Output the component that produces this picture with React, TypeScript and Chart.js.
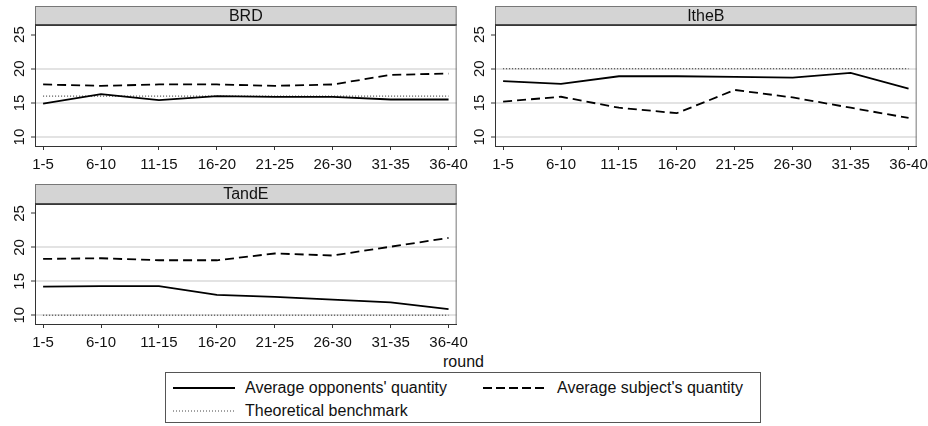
import React, { useEffect, useRef } from "react";
import { Chart, registerables } from "chart.js";

Chart.register(...registerables);

const rounds = ["1-5", "6-10", "11-15", "16-20", "21-25", "26-30", "31-35", "36-40"];

const brdOpponents = [14.9, 16.3, 15.4, 16.0, 15.9, 15.9, 15.5, 15.5];
const brdSubject = [17.7, 17.5, 17.7, 17.7, 17.5, 17.7, 19.1, 19.3];
const brdBenchmark = [16, 16, 16, 16, 16, 16, 16, 16];

const ithebOpponents = [18.2, 17.8, 18.9, 18.9, 18.8, 18.7, 19.4, 17.1];
const ithebSubject = [15.2, 15.9, 14.3, 13.5, 16.9, 15.8, 14.3, 12.8];
const ithebBenchmark = [20, 20, 20, 20, 20, 20, 20, 20];

const tandeOpponents = [14.2, 14.3, 14.3, 13.0, 12.7, 12.3, 11.9, 10.9];
const tandeSubject = [18.3, 18.4, 18.1, 18.1, 19.1, 18.8, 20.1, 21.4];
const tandeBenchmark = [10, 10, 10, 10, 10, 10, 10, 10];

const seriesNames = ["Average opponents' quantity", "Average subject's quantity", "Theoretical benchmark"];
const yMin = 8.7;
const yMax = 26.4;
const yStep = 5;

const FONT = "'Liberation Sans', Arial, Helvetica, sans-serif";
const TEXT = "#111";

const panelPlugin = {
  id: "panelDeco",
  afterDraw(chart: any, _args: any, opts: any) {
    const { ctx, chartArea: ca, scales } = chart;
    ctx.save();
    // header strip
    const top = opts.headerTop;
    ctx.fillStyle = "#d4d4d4";
    ctx.fillRect(ca.left, top, ca.right - ca.left, ca.top - top);
    ctx.strokeStyle = "#777";
    ctx.lineWidth = 1;
    ctx.strokeRect(ca.left + 0.5, top + 0.5, ca.right - ca.left - 1, ca.top - top);
    ctx.strokeStyle = "#222";
    ctx.lineWidth = 1.5;
    ctx.beginPath();
    ctx.moveTo(ca.left, ca.top);
    ctx.lineTo(ca.right, ca.top);
    ctx.stroke();
    ctx.fillStyle = TEXT;
    ctx.font = `16px ${FONT}`;
    ctx.textAlign = "center";
    ctx.textBaseline = "middle";
    ctx.fillText(opts.title, (ca.left + ca.right) / 2, (top + ca.top) / 2 + 1);
    // right border of plot region
    ctx.strokeStyle = "#777";
    ctx.lineWidth = 1;
    ctx.beginPath();
    ctx.moveTo(ca.right - 0.5, ca.top);
    ctx.lineTo(ca.right - 0.5, ca.bottom);
    ctx.stroke();
    // rotated y tick labels
    const ys = scales.y;
    ctx.fillStyle = TEXT;
    ctx.font = `15px ${FONT}`;
    ctx.textAlign = "center";
    ctx.textBaseline = "middle";
    ys.ticks.forEach((t: any) => {
      const py = ys.getPixelForValue(t.value);
      ctx.save();
      ctx.translate(ca.left - 15, py);
      ctx.rotate(-Math.PI / 2);
      ctx.fillText(String(t.value), 0, 0);
      ctx.restore();
    });
    ctx.restore();
  },
};

type PanelProps = {
  title: string;
  opponents: number[];
  subject: number[];
  benchmark: number[];
  left: number;
  top: number;
  padTop: number;
};

function Panel({ title, opponents, subject, benchmark, left, top, padTop }: PanelProps) {
  const ref = useRef<HTMLCanvasElement | null>(null);
  useEffect(() => {
    if (!ref.current) return;
    const toPts = (arr: number[]) => arr.map((v, i) => ({ x: i, y: v }));
    const chart = new Chart(ref.current, {
      type: "line",
      data: {
        datasets: [
          {
            label: seriesNames[0],
            data: toPts(opponents),
            borderColor: "#000",
            borderWidth: 1.8,
            pointRadius: 0,
            tension: 0,
          },
          {
            label: seriesNames[1],
            data: toPts(subject),
            borderColor: "#000",
            borderWidth: 1.8,
            borderDash: [9, 5],
            pointRadius: 0,
            tension: 0,
          },
          {
            label: seriesNames[2],
            data: toPts(benchmark),
            borderColor: "#222",
            borderWidth: 1,
            borderDash: [1, 2],
            pointRadius: 0,
            tension: 0,
          },
        ],
      },
      options: {
        responsive: false,
        animation: false,
        events: [],
        layout: { padding: { left: 0, top: padTop, right: 14, bottom: 0 } },
        plugins: {
          legend: { display: false },
          tooltip: { enabled: false },
          panelDeco: { title, headerTop: 6 },
        } as any,
        scales: {
          x: {
            type: "linear",
            min: -0.14,
            max: 7.14,
            afterFit: (s: any) => {
              s.height = 29;
            },
            border: { display: true, color: "#333", width: 1 },
            grid: {
              drawOnChartArea: false,
              drawTicks: true,
              tickLength: 4,
              tickColor: "#333",
              tickWidth: 1,
            },
            ticks: {
              stepSize: 1,
              includeBounds: false,
              autoSkip: false,
              maxRotation: 0,
              padding: 6,
              color: TEXT,
              font: { family: FONT, size: 15 },
              callback: (v: any) => (Number.isInteger(v) && rounds[v] !== undefined ? rounds[v] : ""),
            },
          },
          y: {
            type: "linear",
            min: yMin,
            max: yMax,
            afterFit: (s: any) => {
              s.width = 35;
            },
            border: { display: true, color: "#333", width: 1 },
            grid: {
              color: (c: any) => (c.tick && c.tick.value === 25 ? "rgba(0,0,0,0)" : "#e3e3e3"),
              lineWidth: 2,
              drawTicks: true,
              tickLength: 4,
              tickColor: "#333",
              tickWidth: 1,
            },
            ticks: {
              stepSize: yStep,
              includeBounds: false,
              display: false,
            },
          },
        },
      },
      plugins: [panelPlugin],
    } as any);
    return () => chart.destroy();
  }, [title, opponents, subject, benchmark, padTop]);

  return (
    <canvas
      ref={ref}
      width={474}
      height={175}
      style={{ position: "absolute", left, top, width: 474, height: 175 }}
    />
  );
}

function LegendLine({ dash, width, color }: { dash?: string; width: number; color: string }) {
  return (
    <svg width={62} height={6} style={{ position: "absolute", left: 0, top: -3 }}>
      <line x1={0} y1={3} x2={62} y2={3} stroke={color} strokeWidth={width} strokeDasharray={dash} />
    </svg>
  );
}

export default function App() {
  const textStyle: React.CSSProperties = {
    position: "absolute",
    fontFamily: FONT,
    fontSize: 16,
    color: TEXT,
    whiteSpace: "nowrap",
    lineHeight: "18px",
  };
  return (
    <div
      style={{
        position: "absolute",
        left: 0,
        top: 0,
        width: 928,
        height: 426,
        background: "#fff",
        overflow: "hidden",
      }}
    >
      <Panel title="BRD" opponents={brdOpponents} subject={brdSubject} benchmark={brdBenchmark} left={0} top={0} padTop={25} />
      <Panel title="ItheB" opponents={ithebOpponents} subject={ithebSubject} benchmark={ithebBenchmark} left={460} top={0} padTop={25} />
      <Panel title="TandE" opponents={tandeOpponents} subject={tandeSubject} benchmark={tandeBenchmark} left={0} top={178} padTop={26} />
      <div style={{ ...textStyle, left: 443, top: 353 }}>round</div>
      <div
        style={{
          position: "absolute",
          left: 165,
          top: 372,
          width: 596,
          height: 51,
          border: "1px solid #555",
          boxSizing: "border-box",
        }}
      >
        <div style={{ position: "absolute", left: 7, top: 15 }}>
          <LegendLine width={1.8} color="#000" />
        </div>
        <div style={{ ...textStyle, left: 79, top: 6 }}>{seriesNames[0]}</div>
        <div style={{ position: "absolute", left: 317, top: 15 }}>
          <LegendLine width={1.8} color="#000" dash="9 4" />
        </div>
        <div style={{ ...textStyle, left: 391, top: 6 }}>{seriesNames[1]}</div>
        <div style={{ position: "absolute", left: 7, top: 38 }}>
          <LegendLine width={1} color="#444" dash="1 2" />
        </div>
        <div style={{ ...textStyle, left: 79, top: 29 }}>{seriesNames[2]}</div>
      </div>
    </div>
  );
}
